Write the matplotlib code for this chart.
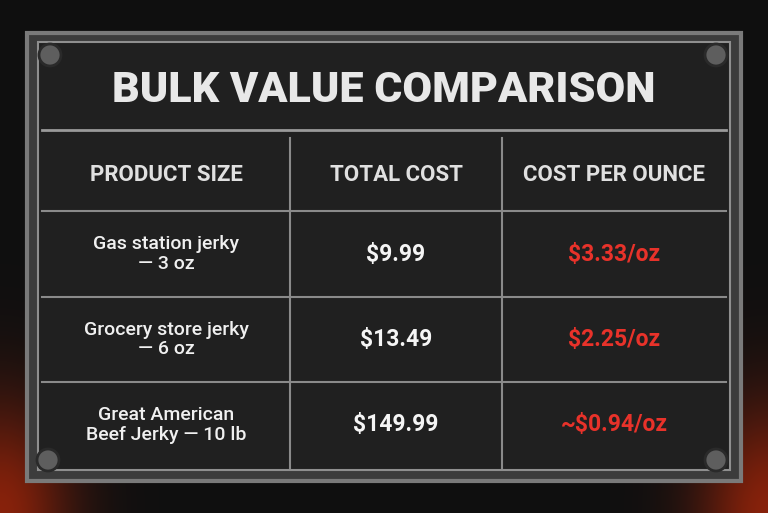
import matplotlib
matplotlib.use("Agg")
import matplotlib.pyplot as plt
import numpy as np
from matplotlib.patches import Rectangle, Circle

title = "BULK VALUE COMPARISON"
headers = ["PRODUCT SIZE", "TOTAL COST", "COST PER OUNCE"]
products = ["Gas station jerky\n— 3 oz", "Grocery store jerky\n— 6 oz", "Great American\nBeef Jerky — 10 lb"]
totals = ["$9.99", "$13.49", "$149.99"]
per_ounce = ["$3.33/oz", "$2.25/oz", "~$0.94/oz"]

fig = plt.figure(figsize=(7.68, 5.13), dpi=100)
ax = fig.add_axes([0, 0, 1, 1])
ax.set_xlim(0, 768); ax.set_ylim(513, 0); ax.axis("off")

yy, xx = np.mgrid[0:513, 0:768]
base = np.zeros((513, 768, 3)) + np.array([0.06, 0.06, 0.06])
g1 = np.exp(-(((xx - 0) / 70) ** 2 + ((yy - 513) / 110) ** 2))
g2 = np.exp(-(((xx - 768) / 70) ** 2 + ((yy - 513) / 110) ** 2))
g = (0.8 * (g1 + g2))[..., None]
base = base * (1 - g) + g * np.array([0.65, 0.15, 0.04])
ax.imshow(base, extent=(0, 768, 513, 0), zorder=0)

ax.add_patch(Rectangle((27, 33), 714, 448, fc="#3c3c3c", ec="#7a7a7a", lw=3, zorder=1))
ax.add_patch(Rectangle((38, 42), 692, 428, fc="#202020", ec="#8f8f8f", lw=1.5, zorder=2))
for (cx, cy) in [(50, 55), (716, 55), (48, 460), (716, 460)]:
    ax.add_patch(Circle((cx, cy), 11, fc="#5e5e5e", ec="#2a2a2a", lw=2, zorder=3))

ax.text(384, 90, title, color="#e8e8e8", fontsize=31, fontweight="black",
        family="Roboto", ha="center", va="center", zorder=4)
ax.plot([42, 726], [130, 130], color="#9a9a9a", lw=2, zorder=3)

col_x = [42, 290, 502, 726]
row_y = [138, 211, 297, 382, 468]
for x in col_x[1:-1]:
    ax.plot([x, x], [row_y[0], row_y[-1]], color="#8a8a8a", lw=1.5, zorder=3)
for y in row_y[1:-1]:
    ax.plot([col_x[0], col_x[-1]], [y, y], color="#8a8a8a", lw=1.5, zorder=3)

centers = [(col_x[i] + col_x[i + 1]) / 2 for i in range(3)]
for i, h in enumerate(headers):
    ax.text(centers[i], 175, h, color="#e0e0e0", fontsize=16, fontweight="bold",
            family="Roboto", ha="center", va="center", zorder=4)
for r in range(3):
    yc = (row_y[r + 1] + row_y[r + 2]) / 2
    ax.text(centers[0], yc, products[r], color="#f0f0f0", fontsize=14, fontweight="medium",
            family="Roboto", ha="center", va="center", linespacing=1.1, zorder=4)
    ax.text(centers[1], yc, totals[r], color="#f5f5f5", fontsize=16.5, fontweight="bold",
            family="Roboto", ha="center", va="center", zorder=4)
    ax.text(centers[2], yc, per_ounce[r], color="#e8322a", fontsize=16.5, fontweight="bold",
            family="Roboto", ha="center", va="center", zorder=4)

fig.savefig("out.png", dpi=100, facecolor="#111111")
